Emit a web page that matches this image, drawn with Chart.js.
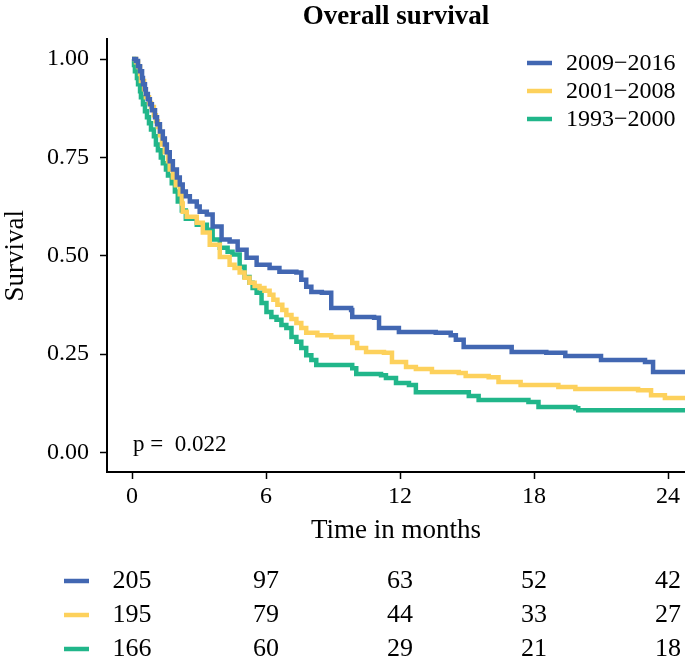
<!DOCTYPE html>
<html>
<head>
<meta charset="utf-8">
<script src="https://cdn.jsdelivr.net/npm/chart.js@4"></script>
<style>
  html, body { margin: 0; padding: 0; background: #fff; }
  #wrap { width: 685px; height: 662px; }
</style>
</head>
<body>
<div id="wrap"><canvas id="km"></canvas></div>
<script>
// Kaplan-Meier estimates (months, survival)
const t2009 = [0, 0.18, 0.27, 0.36, 0.45, 0.49, 0.58, 0.62, 0.71, 0.80, 0.89, 1.03, 1.12, 1.25, 1.38, 1.47, 1.56, 1.69, 1.83, 2.01, 2.14, 2.27, 2.41, 2.59, 2.90, 3.03, 3.35, 3.61, 4.01, 4.37, 4.73, 5.13, 5.58, 6.16, 6.60, 7.36, 7.58, 7.80, 8.03, 8.50, 8.92, 9.81, 9.86, 10.84, 11.06, 11.95, 13.60, 14.27, 14.50, 14.85, 17.00, 18.55, 19.40, 21.00, 22.97, 23.33, 24.76];
const s2009 = [1.000, 0.995, 0.982, 0.969, 0.952, 0.936, 0.923, 0.911, 0.898, 0.885, 0.870, 0.852, 0.834, 0.816, 0.798, 0.783, 0.763, 0.740, 0.719, 0.699, 0.681, 0.663, 0.651, 0.638, 0.625, 0.612, 0.605, 0.574, 0.541, 0.536, 0.515, 0.495, 0.477, 0.469, 0.459, 0.457, 0.439, 0.421, 0.408, 0.406, 0.367, 0.362, 0.344, 0.342, 0.316, 0.306, 0.304, 0.298, 0.286, 0.268, 0.255, 0.253, 0.245, 0.235, 0.230, 0.204, 0.204];

const t2001 = [0, 0.18, 0.27, 0.36, 0.40, 0.54, 0.62, 0.76, 0.85, 0.98, 1.07, 1.16, 1.25, 1.34, 1.47, 1.61, 1.69, 1.83, 1.96, 2.14, 2.23, 2.27, 2.45, 2.90, 3.17, 3.48, 3.93, 4.37, 4.59, 4.82, 5.04, 5.26, 5.49, 5.71, 5.93, 6.16, 6.33, 6.51, 6.73, 6.91, 7.14, 7.36, 7.58, 7.80, 8.30, 8.92, 9.86, 10.08, 10.48, 11.28, 11.64, 12.27, 12.71, 13.43, 14.63, 14.94, 15.97, 16.41, 17.40, 19.09, 19.85, 22.66, 23.24, 23.86, 24.76];
const s2001 = [1.000, 0.992, 0.980, 0.962, 0.944, 0.923, 0.903, 0.888, 0.878, 0.857, 0.842, 0.827, 0.806, 0.783, 0.763, 0.740, 0.719, 0.699, 0.679, 0.656, 0.633, 0.612, 0.599, 0.584, 0.559, 0.528, 0.497, 0.477, 0.469, 0.457, 0.444, 0.431, 0.423, 0.418, 0.411, 0.401, 0.388, 0.375, 0.362, 0.349, 0.339, 0.329, 0.316, 0.304, 0.298, 0.293, 0.278, 0.265, 0.255, 0.253, 0.230, 0.217, 0.212, 0.204, 0.202, 0.194, 0.191, 0.179, 0.171, 0.166, 0.161, 0.158, 0.145, 0.138, 0.138];

const t1993 = [0, 0.09, 0.13, 0.22, 0.27, 0.36, 0.40, 0.49, 0.58, 0.67, 0.76, 0.85, 0.98, 1.07, 1.16, 1.29, 1.38, 1.52, 1.61, 1.78, 1.92, 2.05, 2.23, 2.41, 2.90, 3.35, 3.61, 3.93, 4.28, 4.50, 4.82, 5.04, 5.26, 5.40, 5.58, 5.80, 6.02, 6.24, 6.47, 6.69, 6.91, 7.14, 7.36, 7.58, 7.80, 8.03, 8.25, 9.86, 10.04, 11.15, 11.37, 11.82, 12.40, 12.71, 15.08, 15.52, 17.75, 18.20, 19.85, 19.98, 24.76];
const s1993 = [1.000, 0.985, 0.969, 0.952, 0.936, 0.918, 0.903, 0.885, 0.867, 0.852, 0.837, 0.821, 0.804, 0.783, 0.768, 0.750, 0.735, 0.719, 0.704, 0.684, 0.663, 0.638, 0.615, 0.594, 0.579, 0.566, 0.541, 0.520, 0.510, 0.503, 0.472, 0.446, 0.431, 0.418, 0.406, 0.380, 0.357, 0.344, 0.337, 0.324, 0.316, 0.293, 0.281, 0.265, 0.247, 0.235, 0.222, 0.214, 0.199, 0.196, 0.189, 0.176, 0.171, 0.153, 0.143, 0.133, 0.128, 0.115, 0.112, 0.107, 0.107];

const groups = ["2009\u22122016", "2001\u22122008", "1993\u22122000"];
const colors = ["#4267b2", "#fdd15c", "#21b68a"];

// numbers at risk
const riskTimes = [0, 6, 12, 18, 24];
const risk2009 = [205, 97, 63, 52, 42];
const risk2001 = [195, 79, 44, 33, 27];
const risk1993 = [166, 60, 29, 21, 18];

const xTicks = [0, 6, 12, 18, 24];
const yTicks = [0, 0.25, 0.5, 0.75, 1.0];
const pText = "p =  0.022";

const serif = "'Liberation Serif', 'Times New Roman', serif";

function pts(t, s) {
    return t.map((v, i) => ({ x: v, y: s[i] }));
}

const extras = {
    id: "extras",
    afterDraw(chart) {
        const ctx = chart.ctx;
        const x = chart.scales.x;
        const area = chart.chartArea;
        ctx.save();
        ctx.fillStyle = "#000";
        ctx.textBaseline = "middle";

        // p value
        ctx.font = "23px " + serif;
        ctx.textAlign = "left";
        ctx.fillText(pText, area.left + 26, 445);

        // legend, top right
        ctx.font = "24px " + serif;
        chart.data.datasets.forEach((ds, i) => {
            const y = 63 + i * 28;
            ctx.strokeStyle = ds.borderColor;
            ctx.lineWidth = 4.5;
            ctx.beginPath();
            ctx.moveTo(527, y);
            ctx.lineTo(552, y);
            ctx.stroke();
            ctx.fillStyle = "#000";
            ctx.textAlign = "left";
            ctx.fillText(ds.label, 566, y + 1);
        });

        // risk table
        ctx.font = "26px " + serif;
        const rows = [risk2009, risk2001, risk1993];
        rows.forEach((row, r) => {
            const y = 581 + r * 34;
            ctx.strokeStyle = colors[r];
            ctx.lineWidth = 4.5;
            ctx.beginPath();
            ctx.moveTo(64, y);
            ctx.lineTo(89, y);
            ctx.stroke();
            ctx.fillStyle = "#000";
            ctx.textAlign = "center";
            row.forEach((n, j) => {
                ctx.fillText(String(n), x.getPixelForValue(riskTimes[j]), y);
            });
        });
        ctx.restore();
    },
};

new Chart(document.getElementById("km"), {
    type: "line",
    data: {
        datasets: [
            { label: groups[0], data: pts(t2009, s2009), borderColor: colors[0] },
            { label: groups[1], data: pts(t2001, s2001), borderColor: colors[1] },
            { label: groups[2], data: pts(t1993, s1993), borderColor: colors[2] },
        ].map((d) => Object.assign(d, {
            stepped: true,
            borderWidth: 4.5,
            pointRadius: 0,
            fill: false,
        })),
    },
    options: {
        responsive: true,
        maintainAspectRatio: false,
        animation: false,
        layout: { padding: { top: 0, left: 0, right: 0, bottom: 115 } },
        plugins: {
            legend: { display: false },
            tooltip: { enabled: false },
            title: {
                display: true,
                text: "Overall survival",
                fullSize: false,
                color: "#000",
                font: { family: serif, size: 27, weight: "bold" },
                padding: { top: 1, bottom: 6 },
            },
        },
        scales: {
            x: {
                type: "linear",
                min: -1.12,
                max: 24.76,
                afterBuildTicks: (s) => { s.ticks = xTicks.map((v) => ({ value: v })); },
                afterFit: (s) => { s.height = 75; },
                grid: { drawOnChartArea: false, drawTicks: true, tickLength: 7, tickColor: "#000", tickWidth: 1.5 },
                border: { display: true, color: "#000", width: 2 },
                ticks: { color: "#000", font: { family: serif, size: 24 }, padding: 3, maxRotation: 0 },
                title: {
                    display: true,
                    text: "Time in months",
                    color: "#000",
                    font: { family: serif, size: 27 },
                    padding: { top: 0, bottom: 0 },
                },
            },
            y: {
                min: -0.05,
                max: 1.05,
                afterBuildTicks: (s) => { s.ticks = yTicks.map((v) => ({ value: v })); },
                afterFit: (s) => { s.width = 107; },
                grid: { drawOnChartArea: false, drawTicks: true, tickLength: 7, tickColor: "#000", tickWidth: 1.5 },
                border: { display: true, color: "#000", width: 2 },
                ticks: {
                    color: "#000",
                    font: { family: serif, size: 24 },
                    padding: 11,
                    callback: (v) => Number(v).toFixed(2),
                },
                title: {
                    display: true,
                    text: "Survival",
                    color: "#000",
                    font: { family: serif, size: 27 },
                    padding: { top: 0, bottom: 0 },
                },
            },
        },
    },
    plugins: [extras],
});
</script>
</body>
</html>
